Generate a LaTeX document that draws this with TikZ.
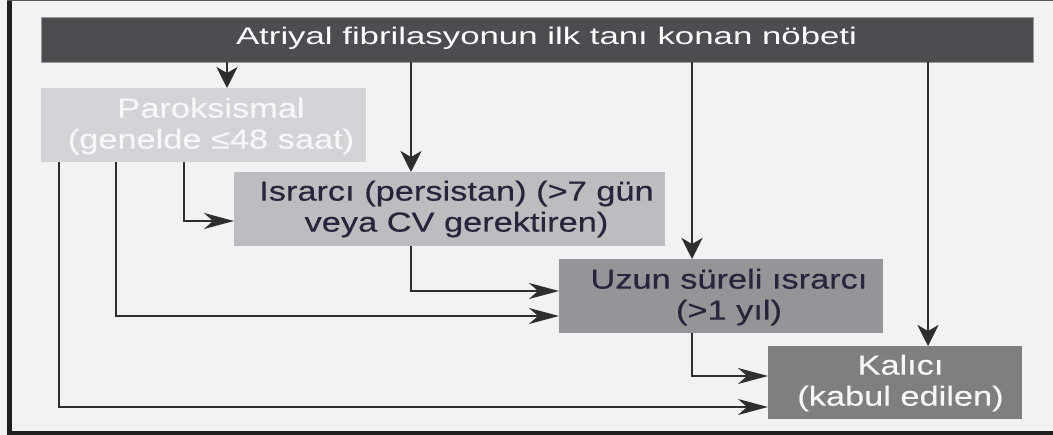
\documentclass[tikz,border=0pt]{standalone}
\usepackage{fontspec}
\setmainfont{Liberation Sans}
\newfontfamily\topfont[FakeStretch=1.45]{Liberation Sans}
\newfontfamily\boxfont[FakeStretch=1.25,FakeBold=0.4]{Liberation Sans}
\usetikzlibrary{arrows.meta}
\definecolor{bg}{HTML}{F2F2F2}
\definecolor{framec}{HTML}{1F1F1F}
\definecolor{topfill}{HTML}{4D4D4F}
\definecolor{parfill}{HTML}{D3D4D6}
\definecolor{isrfill}{HTML}{BCBDC0}
\definecolor{uzfill}{HTML}{939598}
\definecolor{kalfill}{HTML}{7F7F7F}
\definecolor{darktext}{HTML}{26263A}
\definecolor{lighttext}{HTML}{F7F7F7}
\definecolor{linec}{HTML}{2E2E2E}
\begin{document}
\begin{tikzpicture}[x=1pt,y=-1pt,
  box/.style={rectangle, inner sep=0pt, outer sep=0pt},
  lbl/.style={align=center, inner sep=0pt, font=\boxfont\fontsize{27.5}{31}\selectfont},
  conn/.style={draw=linec, line width=1.8pt},
  harr/.style={conn, -{Stealth[length=30pt,width=16pt,inset=9pt]}},
  varr/.style={conn, -{Stealth[length=21pt,width=21pt,inset=6pt]}},
]
\useasboundingbox (0,0) rectangle (1053,435);
% background and frame
\fill[bg] (0,0) rectangle (1053,435);
\fill[framec] (7,0) rectangle (12,435);
\fill[framec] (7,431) rectangle (1053,435);
\draw[black!65, line width=1pt] (7,0.5) -- (1053,0.5);

% boxes
\node[box, fill=topfill, draw=black!40, line width=0.8pt, minimum width=992pt, minimum height=45pt] (top) at (537,39.5) {};
\node[anchor=base, inner sep=0pt, text=white, font=\topfont\fontsize{24}{27}\selectfont] (topT) at (546.5,45) {Atriyal fibrilasyonun ilk tanı konan nöbeti};

\node[box, fill=parfill, minimum width=325pt, minimum height=74pt] (par) at (203.5,125) {};
\node[lbl, text=lighttext] (parT) at (211,126) {Paroksismal\\(genelde ≤48 saat)};

\node[box, fill=isrfill, minimum width=431pt, minimum height=74pt] (isr) at (449.5,209) {};
\node[lbl, text=darktext] (isrT) at (456.5,209) {Israrcı (persistan) (>7 gün\\veya CV gerektiren)};

\node[box, fill=uzfill, minimum width=324pt, minimum height=74pt] (uzun) at (721,296) {};
\node[lbl, text=darktext] (uzunT) at (729,297) {Uzun süreli ısrarcı\\(>1 yıl)};

\node[box, fill=kalfill, minimum width=254pt, minimum height=73pt] (kal) at (895,382.5) {};
\node[lbl, text=lighttext] (kalT) at (900.5,383) {Kalıcı\\(kabul edilen)};

% helper coordinates for connector positions
\coordinate (xa) at (227,0);
\coordinate (xb) at (411,0);
\coordinate (xc) at (692,0);
\coordinate (xd) at (928,0);
\coordinate (p1) at (59,0);
\coordinate (p2) at (116,0);
\coordinate (p3) at (184,0);
\coordinate (r1) at (0,221);
\coordinate (r2) at (0,291);
\coordinate (r3) at (0,316);
\coordinate (r4) at (0,376);
\coordinate (r5) at (0,407);

% connectors from the top box
\draw[varr] (top.south -| xa) -- (par.north -| xa);
\draw[varr] (top.south -| xb) -- (isr.north -| xb);
\draw[varr] (top.south -| xc) -- (uzun.north -| xc);
\draw[varr] (top.south -| xd) -- (kal.north -| xd);

% elbow connectors
\draw[harr] (par.south -| p3) |- (isr.west |- r1);
\draw[harr] (isr.south -| xb) |- (uzun.west |- r2);
\draw[harr] (par.south -| p2) |- (uzun.west |- r3);
\draw[harr] (uzun.south -| xc) |- (kal.west |- r4);
\draw[harr] (par.south -| p1) |- (kal.west |- r5);
\end{tikzpicture}
\end{document}
